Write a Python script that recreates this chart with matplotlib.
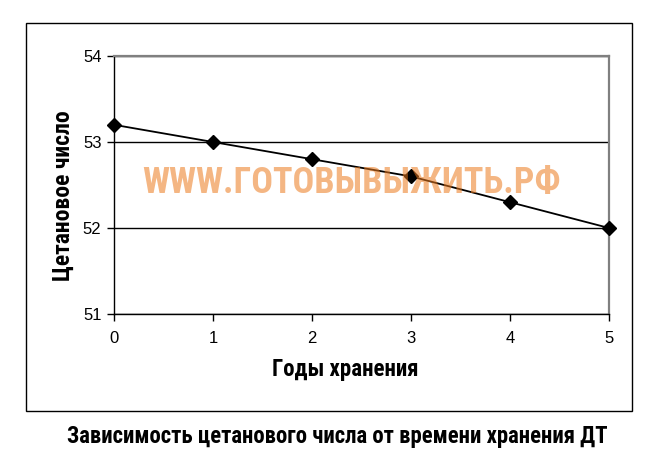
import matplotlib
matplotlib.use("Agg")
import matplotlib.pyplot as plt
from matplotlib.patches import Rectangle

years = [0, 1, 2, 3, 4, 5]
cetane = [53.2, 53.0, 52.8, 52.6, 52.3, 52.0]
yticks = [51, 52, 53, 54]

narrow = ["Roboto Condensed", "Open Sans Condensed", "DejaVu Sans"]
plt.rcParams["font.family"] = ["Liberation Sans", "DejaVu Sans"]

fig = plt.figure(figsize=(6.71, 4.71), dpi=100)

# outer frame like an Excel chart area
fig.patches.append(Rectangle((26 / 671, 1 - 411 / 471), 606 / 671, 388 / 471,
                             transform=fig.transFigure, fill=False,
                             edgecolor="black", linewidth=1.0))

ax = fig.add_axes([114 / 671, 1 - 314 / 471, 495 / 671, 258 / 471])
ax.plot(years, cetane, color="black", linewidth=1.3, marker="D",
        markersize=7, markerfacecolor="black", markeredgecolor="black",
        clip_on=False, zorder=3)

ax.set_xlim(0, 5)
ax.set_ylim(51, 54)
ax.set_xticks(years)
ax.set_yticks(yticks)
ax.yaxis.grid(True, color="black", linewidth=1.0)
ax.set_axisbelow(True)
ax.tick_params(axis="both", direction="out", length=5, width=1,
               labelsize=12, colors="black")
ax.tick_params(axis="x", pad=7)
ax.tick_params(axis="y", pad=4)
for s in ("top", "right"):
    ax.spines[s].set_color("#808080")
    ax.spines[s].set_linewidth(1.6)
for s in ("left", "bottom"):
    ax.spines[s].set_color("black")
    ax.spines[s].set_linewidth(1.0)

lab = dict(family=narrow, fontweight="bold", fontstretch="condensed")
ax.set_xlabel("Годы хранения", fontsize=16.5, va="center", **lab)
ax.set_ylabel("Цетановое число", fontsize=17, va="center", **lab)
ax.xaxis.set_label_coords(0.467, -0.217)
ax.yaxis.set_label_coords(-0.103, 0.457)

# watermark
ax.text(2.4, 52.52, "WWW.ГОТОВЫВЫЖИТЬ.РФ", fontsize=26, color="#ec7a1e",
        alpha=0.55, ha="center", va="center", zorder=5, **lab)

fig.text(0.503, 1 - 437 / 471, "Зависимость цетанового числа от времени хранения ДТ",
         fontsize=16.4, ha="center", va="center", color="black", **lab)

fig.savefig("out.png", dpi=100, facecolor="white")
